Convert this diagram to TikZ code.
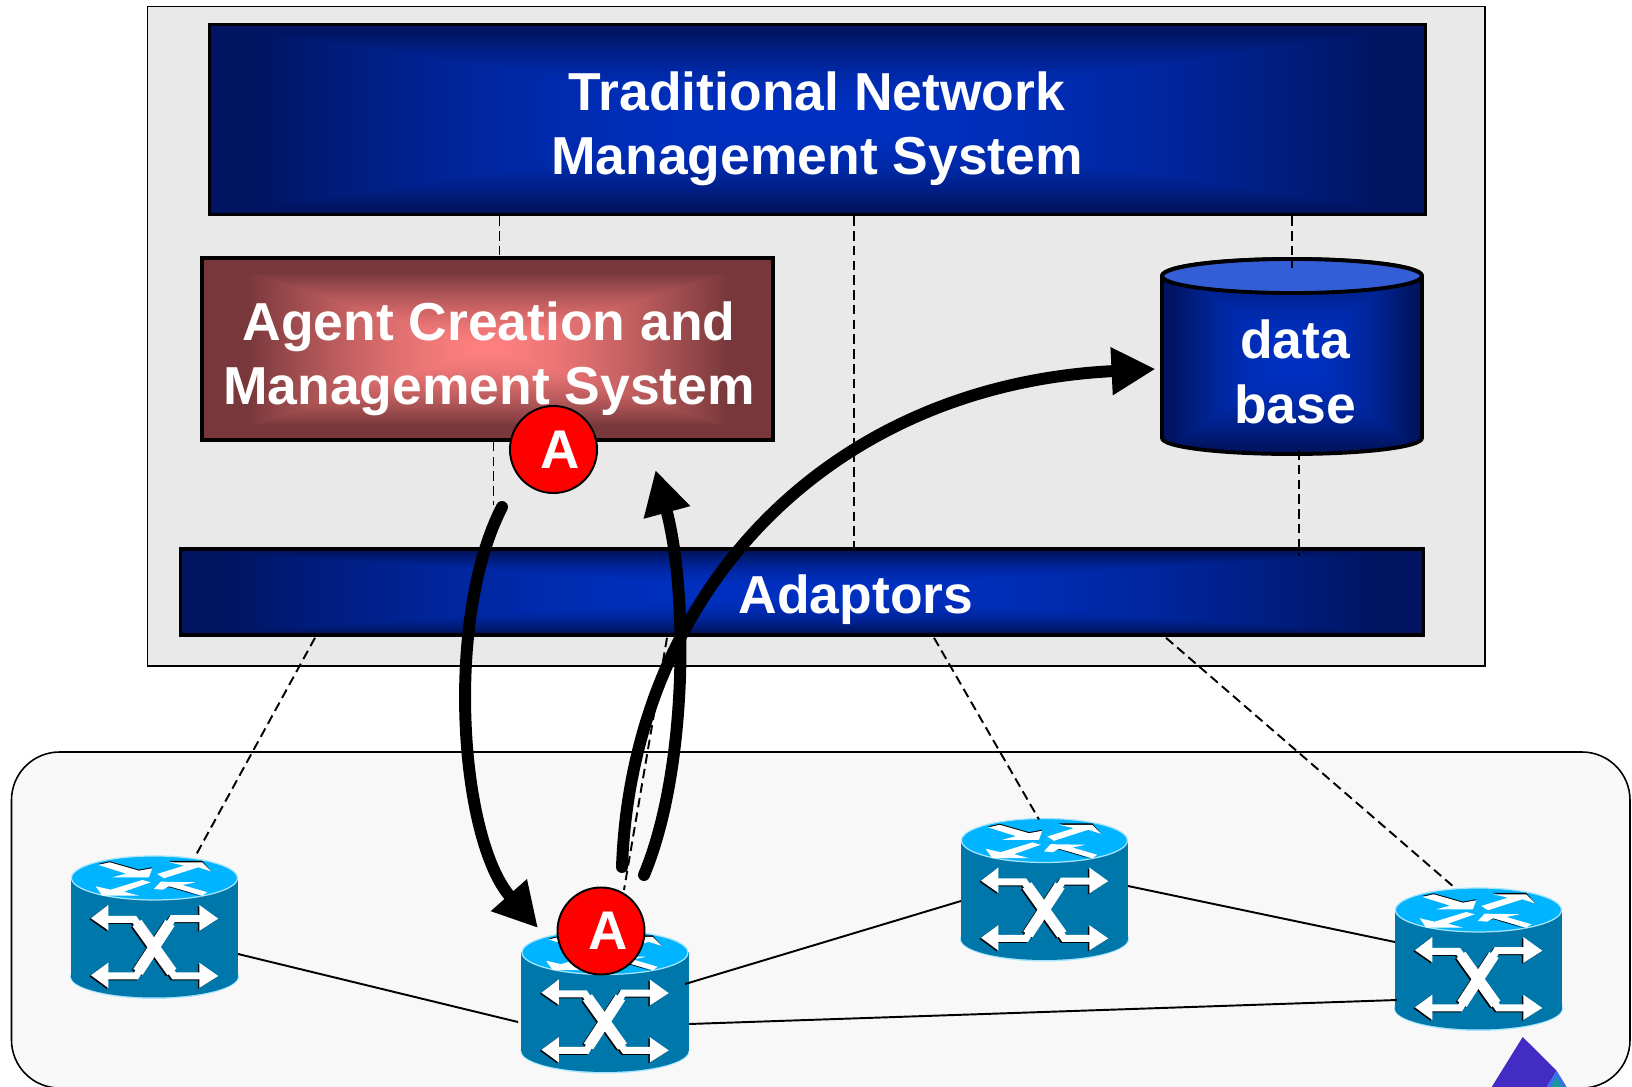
\documentclass[tikz,border=0pt]{standalone}
\usepackage{fontspec}
\setmainfont{Liberation Sans}
\usetikzlibrary{math}
\usetikzlibrary{arrows.meta}

\definecolor{outerbg}{HTML}{E9E9E9}
\definecolor{netbg}{HTML}{F8F8F8}
\definecolor{routerbody}{HTML}{0077AA}
\definecolor{routertop}{HTML}{00B4FF}
\definecolor{routerrim}{HTML}{A8E6FF}
\definecolor{dbtop}{HTML}{335ED6}

\pgfdeclarefunctionalshading{bluepanel}{\pgfpointorigin}{\pgfpoint{100bp}{100bp}}{}{
50 sub abs exch 50 sub abs 2 copy lt {exch} if pop 23 div dup 1 gt {pop 1} if dup mul
dup 0 mul 0 add exch dup -0.11 mul 0.19 add exch -0.38 mul 0.76 add
}
\pgfdeclarefunctionalshading{redpanel}{\pgfpointorigin}{\pgfpoint{100bp}{100bp}}{}{
50 sub abs exch 50 sub abs 2 copy lt {exch} if pop 21 div dup 1 gt {pop 1} if dup sqrt mul
dup -0.53 mul 1 add exch dup -0.28 mul 0.5 add exch -0.27 mul 0.5 add
}

\newcommand{\routerglyph}[1]{
\draw[#1, line width=7pt*0.2845, miter limit=4] (36,63.3) -- (63.3,63.3) -- (103.3,120) -- (130,120);
\draw[#1, line width=7pt*0.2845, miter limit=4] (36,120) -- (65,120) -- (101.7,62.7) -- (130,62.7);
\draw[#1, line width=11pt*0.2845] (66,67) -- (101,116);
\draw[#1, line width=11pt*0.2845] (67,116) -- (99,67);
\fill[#1] (20,62.3) -- (37.3,49) -- (37.3,74.3) -- cycle;
\fill[#1] (147.3,62.7) -- (128.3,49) -- (128.3,75) -- cycle;
\fill[#1] (20,119.3) -- (37.3,106.7) -- (37.3,132) -- cycle;
\fill[#1] (147.3,120) -- (128.3,106.7) -- (128.3,132) -- cycle;
}

\tikzset{
bluebar/.style={draw=black, line width=1pt, shade, shading=bluepanel, inner sep=0pt},
redbar/.style={draw=black, line width=1pt, shade, shading=redpanel, inner sep=0pt},
paneltext/.style={text=white, font=\fontsize{15.2}{18.3}\selectfont\bfseries, align=center, inner sep=0pt},
routerbox/.style={minimum width=1.67cm, minimum height=1.4cm, inner sep=0pt, outer sep=0pt},
agentdot/.style={circle, draw=black, line width=0.55pt, fill=red, minimum size=0.87cm, inner sep=0pt, text=white, font=\fontsize{15.5}{18}\selectfont\bfseries},
dashline/.style={line width=0.55pt, dash pattern=on 2.7pt off 1.5pt},
linkline/.style={line width=0.55pt},
flowarrow/.style={line width=3.4pt, line cap=round, -{Triangle[length=12.5pt,width=12.8pt]}},
pics/netrouter/.style={code={
\fill[routerrim] (83.5,120.5) ellipse [x radius=84.5, y radius=22.5];
\fill[routerbody] (83.5,120.5) ellipse [x radius=83.5, y radius=21];
\fill[routerbody] (0,22) rectangle (167.5,121);
\draw[routerrim, fill=routertop, line width=0.35pt] (83.5,22) ellipse [x radius=83, y radius=22];
\fill[black] (27.3,8) -- (38.7,5.3) -- (68,13.7) -- (81.3,11.3) -- (78,20.3) -- (68,16) -- cycle;
\fill[black] (98,5) -- (131.3,5) -- (140.7,15.7) -- (127.3,10) -- (113,9.7) -- cycle;
\fill[black] (130,40.5) -- (98,29) -- (92,33) -- (98,31) -- cycle;
\fill[white] (27.3,9) -- (38.7,6.3) -- (68,14.7) -- (81.3,12.3) -- (78,21.3) -- (41.3,21.3) -- (55.3,17.7) -- cycle;
\fill[white] (86.3,18) -- (113,9.7) -- (98,6.3) -- (131.3,6.3) -- (140.7,15.7) -- (127.3,11.3) -- (93,22.3) -- cycle;
\fill[white] (24.7,30.3) -- (31.3,39.7) -- (68,39.7) -- (53,35.7) -- (79.7,26.3) -- (71.3,24) -- (39.7,33.7) -- cycle;
\fill[white] (83,33) -- (89.7,25.7) -- (124.7,26.3) -- (111.3,29) -- (136.3,36.3) -- (131.3,39.7) -- (98,30.3) -- (92,33.7) -- cycle;
\begin{scope}[shift={(-1.5,1)}]
\routerglyph{black}
\end{scope}
\routerglyph{white}
}}
}

\begin{document}
\begin{tikzpicture}[x=0.01cm, y=-0.01cm]

\tikzmath{
\ronex = 154.5;
\roney = 926;
\rtwox = 605;
\rtwoy = 1000.5;
\rthreex = 1044.5;
\rthreey = 888.5;
\rfourx = 1478.5;
\rfoury = 958;
}

\useasboundingbox (0,0) rectangle (1632,1087);

\draw[black, fill=outerbg, line width=0.45pt] (147.5,6.5) rectangle (1485,666);
\draw[black, fill=netbg, line width=0.45pt, rounded corners=0.48cm] (11.5,752) rectangle (1630,1088);

%panels
\node[bluebar, minimum width=12.15cm, minimum height=1.9cm] (nms) at (817.5,119.5) {};
\node[redbar, minimum width=5.71cm, minimum height=1.82cm] (acms) at (487.5,349) {};
\node[bluebar, minimum width=12.42cm, minimum height=0.86cm] (adp) at (802,592) {};

%database
\node[routerbox, minimum width=2.6cm, minimum height=1.96cm] (dbase) at (1292,357) {};
\draw[black, line width=1.1pt, shade, shading=bluepanel] (1162,276) -- (1162,438) .. controls (1162,447) and (1220,454) .. (1292,454) .. controls (1364,454) and (1422,447) .. (1422,438) -- (1422,276) .. controls (1422,266) and (1364,259) .. (1292,259) .. controls (1220,259) and (1162,266) .. (1162,276) -- cycle;
\draw[black, fill=dbtop, line width=1.1pt] (1292,276) ellipse [x radius=130, y radius=17];

%routers
\node[routerbox] (rone) at (\ronex,\roney) {};
\node[routerbox] (rtwo) at (\rtwox,\rtwoy) {};
\node[routerbox] (rthree) at (\rthreex,\rthreey) {};
\node[routerbox] (rfour) at (\rfourx,\rfoury) {};
\pic at (rone.north west) {netrouter};
\pic at (rtwo.north west) {netrouter};
\pic at (rthree.north west) {netrouter};
\pic at (rfour.north west) {netrouter};

\draw[linkline] ([shift={(0,28)}]rone.east) -- ([shift={(-3.5,21.5)}]rtwo.west);
\draw[linkline] ([shift={(-3.5,-16.5)}]rtwo.east) -- ([shift={(0,12.5)}]rthree.west);
\draw[linkline] ([shift={(0.5,23.5)}]rtwo.east) -- ([shift={(2,42)}]rfour.west);
\draw[linkline] ([shift={(0,-2.5)}]rthree.east) -- ([shift={(0,-16)}]rfour.west);

%logo
\fill[fill={rgb,255:red,67;green,44;blue,196}] (1522.7,1037) -- (1556.7,1070.7) -- (1546.7,1087) -- (1491.7,1087) -- cycle;
\fill[fill={rgb,255:red,58;green,111;blue,232}] (1556.7,1070.7) -- (1566.7,1087) -- (1546.7,1087) -- cycle;
\fill[fill={rgb,255:red,20;green,154;blue,154}] (1556.7,1077) -- (1562,1087) -- (1551,1087) -- cycle;

%free ends of the arrows
\coordinate (agenttail) at (502,507);
\coordinate (agenthead) at (655.5,470);
\coordinate (rtwohead) at (538,928);
\coordinate (rtwotail) at (644,875);
\coordinate (movetail) at (622,867);
\coordinate (dbhead) at (1155.5,369);

%dashed
\draw[dashline] ([shift={(-318,0)}]nms.south) -- ([shift={(12,0)}]acms.north);
\draw[dashline] ([shift={(36.5,0)}]nms.south) -- ([shift={(52,0)}]adp.north);
\draw[dashline] ([shift={(474.5,0)}]nms.south) -- ([shift={(0,9)}]dbase.north);
\draw[dashline] ([shift={(7,-5)}]dbase.south) -- ([shift={(497,9)}]adp.north);
\draw[dashline] ([shift={(6,0)}]acms.south) -- ([shift={(-8.5,-2)}]agenttail);
\draw[dashline] ([shift={(-487,1)}]adp.south) -- ([shift={(41.5,-1)}]rone.north);
\draw[dashline] ([shift={(-135,1)}]adp.south) -- ([shift={(19,-40.5)}]rtwo.north);
\draw[dashline] ([shift={(132,1)}]adp.south) -- ([shift={(-5.5,1)}]rthree.north);
\draw[dashline] ([shift={(364,1)}]adp.south) -- ([shift={(-23.5,0)}]rfour.north);

%text
\node[paneltext] (nmstext) at (817,129) {Traditional Network\\Management System};
\node[paneltext] (acmstext) at (489,359) {Agent Creation and\\Management System};
\node[paneltext] (adptext) at (856,600) {Adaptors};
\node[paneltext] (dbtext) at (1295,372) {data\\base};

\node[agentdot] (agentup) at (553.5,449.5) {\kern4pt A};
\node[agentdot] (agentdown) at (601,931) {\kern4pt A};

%arrows
\draw[flowarrow] (agenttail) .. controls (444,620) and (460,840) .. (rtwohead);
\draw[flowarrow] (rtwotail) .. controls (688,770) and (688,590) .. (agenthead);
\draw[flowarrow] (movetail) .. controls (632,590) and (830,385) .. (dbhead);

\end{tikzpicture}
\end{document}
